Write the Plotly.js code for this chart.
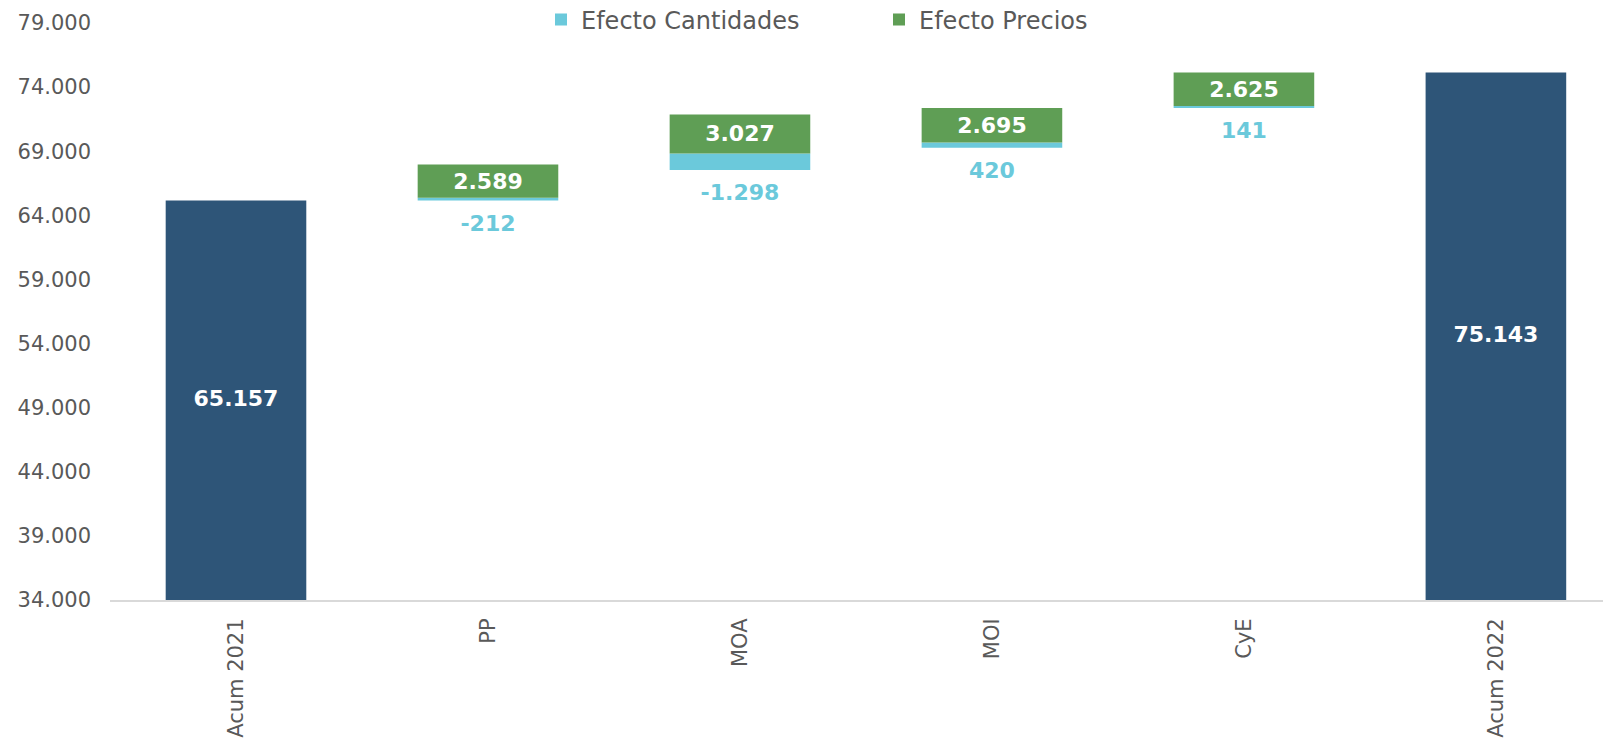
<!DOCTYPE html>
<html>
<head>
<meta charset="utf-8">
<script src="https://cdn.plot.ly/plotly-3.0.1.min.js"></script>
<style>html,body{margin:0;padding:0;background:#fff;} #chart{width:1603px;height:738px;}</style>
</head>
<body>
<div id="chart"></div>
<script>
// ---- data ----
const categories = ["Acum 2021", "PP", "MOA", "MOI", "CyE", "Acum 2022"];
const totalCategories = ["Acum 2021", "Acum 2022"];
const totalValues = [65157, 75143];
const effectCategories = ["PP", "MOA", "MOI", "CyE"];
const efectoCantidades = [-212, -1298, 420, 141];
const efectoPrecios = [2589, 3027, 2695, 2625];
const yTickValues = [34000, 39000, 44000, 49000, 54000, 59000, 64000, 69000, 74000, 79000];

// ---- helpers ----
function fmt(n) {
  const s = Math.abs(Math.round(n)).toString().replace(/\B(?=(\d{3})+(?!\d))/g, ".");
  return (n < 0 ? "-" : "") + s;
}

const yMin = yTickValues[0];
const yMax = yTickValues[yTickValues.length - 1];

// running totals (start of each effect category)
const runStart = [];
let acc = totalValues[0];
for (let i = 0; i < effectCategories.length; i++) {
  runStart.push(acc);
  acc += efectoCantidades[i] + efectoPrecios[i];
}
const cantAbs = efectoCantidades.map(v => Math.abs(v));
const precioBase = runStart.map((b, i) => b + cantAbs[i]);
// label position for total bars: middle of the visible part of the bar
const totalLabelY = totalValues.map(v => (yMin + v) / 2);

const FONT = "DejaVu Sans, Verdana, sans-serif";
const DARK = "#2E5578";
const LIGHT = "#6BC9DB";
const GREEN = "#5F9E55";
const BW = 0.558;

const traces = [
  {
    type: "bar", x: totalCategories, y: totalValues, width: BW,
    marker: {color: DARK}, showlegend: false, hoverinfo: "skip", textposition: "none"
  },
  {
    type: "bar", name: "Efecto Cantidades", x: effectCategories, y: cantAbs, base: runStart, width: BW,
    marker: {color: LIGHT}, textposition: "none", hoverinfo: "skip"
  },
  {
    type: "bar", name: "Efecto Precios", x: effectCategories, y: efectoPrecios, base: precioBase, width: BW,
    marker: {color: GREEN}, hoverinfo: "skip",
    text: efectoPrecios.map(fmt), textposition: "inside", insidetextanchor: "middle",
    textfont: {family: FONT, size: 22, color: "#ffffff", weight: "bold"},
    constraintext: "none"
  },
  {
    type: "scatter", mode: "text", x: totalCategories, y: totalLabelY, showlegend: false, hoverinfo: "skip",
    text: totalValues.map(fmt), textposition: "middle center",
    textfont: {family: FONT, size: 22, color: "#ffffff", weight: "bold"}
  },
  {
    type: "scatter", mode: "markers+text", x: effectCategories, y: runStart, showlegend: false, hoverinfo: "skip",
    marker: {size: 20, color: "rgba(0,0,0,0)"},
    text: efectoCantidades.map(fmt), textposition: "bottom center",
    textfont: {family: FONT, size: 22, color: LIGHT, weight: "bold"}
  }
];

const layout = {
  width: 1603, height: 738,
  margin: {l: 110, r: 0, t: 23, b: 138, pad: 0, autoexpand: false},
  paper_bgcolor: "#ffffff", plot_bgcolor: "#ffffff",
  barmode: "overlay",
  font: {family: FONT, size: 21, color: "#595959"},
  xaxis: {
    type: "category", categoryorder: "array", categoryarray: categories,
    range: [-0.5, 5.425], tickangle: -90, showgrid: false, zeroline: false,
    showline: true, linecolor: "#D9D9D9", linewidth: 2, ticks: "",
    tickfont: {family: FONT, size: 21, color: "#595959"}, ticklabelstandoff: 8,
    automargin: false, fixedrange: true
  },
  yaxis: {
    range: [yMin, yMax], tickmode: "array", tickvals: yTickValues,
    ticktext: yTickValues.map(fmt), showgrid: false, zeroline: false, showline: false,
    ticks: "", tickfont: {family: FONT, size: 21, color: "#595959"}, ticklabelstandoff: 18,
    automargin: false, fixedrange: true
  },
  legend: {
    orientation: "h", xref: "container", yref: "container",
    x: 541 / 1603, xanchor: "left", y: 1 - 20 / 738, yanchor: "middle",
    font: {family: FONT, size: 24, color: "#595959"}, bgcolor: "rgba(0,0,0,0)",
    traceorder: "normal", entrywidth: 293, entrywidthmode: "pixels"
  },
  showlegend: true
};

Plotly.newPlot("chart", traces, layout, {displayModeBar: false, staticPlot: true});
</script>
</body>
</html>
